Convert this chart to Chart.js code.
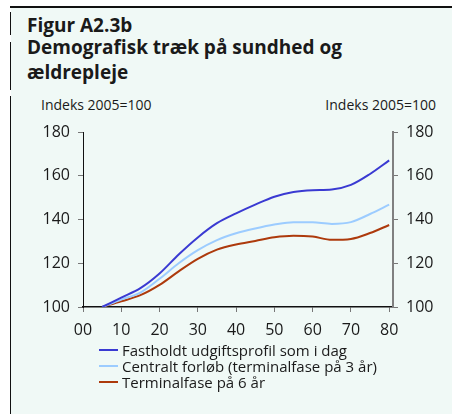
<!DOCTYPE html>
<html>
<head>
<meta charset="utf-8">
<script src="https://cdn.jsdelivr.net/npm/chart.js@4.4.1/dist/chart.umd.min.js"></script>
<style>
  html, body { margin: 0; padding: 0; background: #fff; }
  body { width: 452px; height: 414px; position: relative; overflow: hidden; font-family: "Open Sans", sans-serif; color: #1a1a1a; }
  .panel { position: absolute; left: 11px; top: 8px; right: 0; bottom: 0; background: #f0f9f6; }
  .topline { position: absolute; left: 10px; top: 6px; right: 0; height: 2px; background: #111; }
  .vline { position: absolute; left: 10px; width: 1px; background: #111; }
  .t { position: absolute; white-space: nowrap; }
  .title { font-weight: 700; font-size: 19px; line-height: 19px; left: 27px; }
  .unit { font-size: 14px; line-height: 14px; top: 98px; }
  .legend { position: absolute; left: 99px; top: 342px; font-size: 15px; line-height: 16px; }
  .legend div { position: relative; padding-left: 23px; height: 16px; white-space: nowrap; }
  .legend span { position: absolute; left: 0; top: 7px; width: 19px; height: 2px; }
  canvas { position: absolute; left: 0; top: 0; }
</style>
</head>
<body>
<div class="panel"></div>
<div class="topline"></div>
<div class="vline" style="top:12px;height:23px"></div>
<div class="vline" style="top:42px;height:48px"></div>
<div class="vline" style="top:96px;height:318px"></div>

<div class="t title" style="top:16px">Figur A2.3b</div>
<div class="t title" style="top:38px">Demografisk træk på sundhed og</div>
<div class="t title" style="top:63px">ældrepleje</div>
<div class="t unit" style="left:41px">Indeks 2005=100</div>
<div class="t unit" style="right:16px">Indeks 2005=100</div>

<canvas id="chart" width="452" height="414"></canvas>

<div class="legend" id="legend"></div>

<script>
// years after 2000
const years = [5, 10, 15, 20, 25, 30, 35, 40, 45, 50, 55, 60, 65, 70, 75, 80];
const fastholdt = [100, 104.3, 108.6, 115.3, 124.0, 131.8, 138.3, 142.8, 146.8, 150.4, 152.6, 153.4, 153.7, 155.8, 160.8, 167.0];
const central   = [100, 103.4, 106.6, 112.9, 120.0, 126.0, 130.6, 133.7, 135.9, 137.7, 138.8, 138.7, 138.0, 138.8, 142.5, 146.8];
const terminal6 = [100, 102.6, 105.4, 110.1, 116.3, 122.0, 126.2, 128.6, 130.2, 131.9, 132.6, 132.2, 130.7, 131.1, 133.8, 137.5];
const xTicks = [0, 10, 20, 30, 40, 50, 60, 70, 80];
const yTicks = [100, 120, 140, 160, 180];

const seriesNames = [
  'Fastholdt udgiftsprofil som i dag',
  'Centralt forløb (terminalfase på 3 år)',
  'Terminalfase på 6 år'
];
const colors = ['#3a3ad2', '#9cccff', '#ad3a0c'];

const toPoints = vals => vals.map((v, i) => ({ x: years[i], y: v }));

const tickFont = { family: 'Open Sans', size: 16 };

const yAxis = (pos, borderColor, borderWidth, width) => ({
  type: 'linear',
  position: pos,
  min: 100,
  max: 180,
  afterBuildTicks: s => { s.ticks = yTicks.map(v => ({ value: v })); },
  afterFit: s => { s.width = width; },
  border: { display: true, color: borderColor, width: borderWidth },
  grid: { drawOnChartArea: false, drawTicks: true, tickLength: 5, tickColor: '#777' },
  ticks: { font: tickFont, color: '#1a1a1a', padding: 8 }
});

new Chart(document.getElementById('chart'), {
  type: 'line',
  data: {
    datasets: [fastholdt, central, terminal6].map((vals, i) => ({
      label: seriesNames[i],
      data: toPoints(vals),
      borderColor: colors[i],
      borderWidth: 2,
      pointRadius: 0,
      cubicInterpolationMode: 'monotone',
      fill: false
    }))
  },
  options: {
    responsive: false,
    animation: false,
    layout: { padding: { left: 0, right: 0, top: 132, bottom: 0 } },
    plugins: { legend: { display: false }, tooltip: { enabled: false } },
    scales: {
      x: {
        type: 'linear',
        min: 0,
        max: 81,
        afterBuildTicks: s => { s.ticks = xTicks.map(v => ({ value: v })); },
        afterFit: s => { s.height = 107; },
        border: { display: true, color: '#111', width: 1.5 },
        grid: { drawOnChartArea: false, drawTicks: true, tickLength: 5, tickColor: '#777' },
        ticks: {
          font: tickFont,
          color: '#1a1a1a',
          padding: 9,
          maxRotation: 0,
          callback: v => String(v).padStart(2, '0')
        }
      },
      y: yAxis('left', '#111', 1, 83),
      y2: yAxis('right', '#808080', 2, 59)
    }
  }
});

// html legend
const legend = document.getElementById('legend');
seriesNames.forEach((name, i) => {
  const row = document.createElement('div');
  row.innerHTML = '<span style="background:' + colors[i] + '"></span>' + name;
  legend.appendChild(row);
});
</script>
</body>
</html>
